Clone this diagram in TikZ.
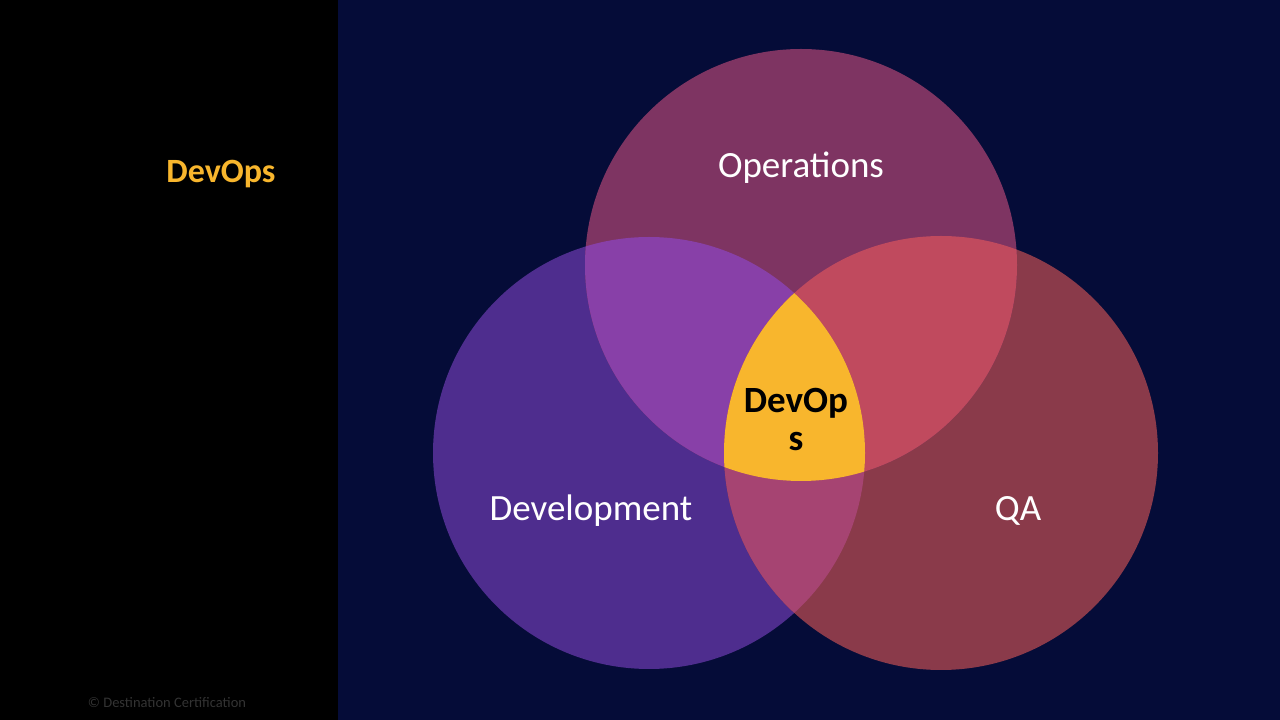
\documentclass[tikz,border=0pt]{standalone}
\usepackage{fontspec}
\setmainfont{Carlito}
\definecolor{navy}{HTML}{050C38}
\definecolor{opsc}{HTML}{7E3462}
\definecolor{devc}{HTML}{4E2D8E}
\definecolor{qac}{HTML}{8A3A4A}
\definecolor{odc}{HTML}{8840A8}
\definecolor{oqc}{HTML}{C04A5E}
\definecolor{dqc}{HTML}{A64472}
\definecolor{centc}{HTML}{F8B62D}
\tikzset{lbl/.style={text=white,font=\fontsize{37}{40}\selectfont}}
\begin{document}
\begin{tikzpicture}[x=1pt,y=1pt]
\useasboundingbox (0,0) rectangle (1280,720);
\fill[black] (0,0) rectangle (338,720);
\fill[navy] (338,0) rectangle (1280,720);
\def\ops{(801,455) circle (216)}
\def\dev{(649,267) circle (216)}
\def\qa{(941,267) circle (217)}
\fill[devc] \dev;
\fill[qac] \qa;
\fill[opsc] \ops;
\begin{scope}\clip \ops; \fill[odc] \dev; \fill[oqc] \qa; \end{scope}
\begin{scope}\clip \dev; \fill[dqc] \qa; \end{scope}
\begin{scope}\clip \ops; \clip \dev; \fill[centc] \qa; \end{scope}
\node[lbl] (o) at (801,552) {Operations};
\node[lbl] (d) at (591,209) {Development};
\node[lbl] (q) at (1018,209) {QA};
\node[font=\bfseries\fontsize{37}{38}\selectfont,align=center] (c) at (796,300) {DevOp\\s};
\node[text=centc,font=\bfseries\fontsize{34}{36}\selectfont] (t) at (221,546) {DevOps};
\node[text=black!60!white,font=\fontsize{14.5}{16}\selectfont,opacity=0.5] (cp) at (167,17) {© Destination Certification};
\end{tikzpicture}
\end{document}
